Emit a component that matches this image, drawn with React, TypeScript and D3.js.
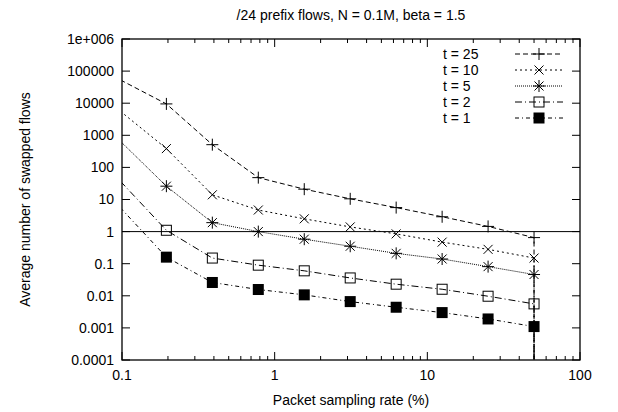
import React from "react";
import * as d3 from "d3";

const rates = [0.09765625, 0.1953125, 0.390625, 0.78125, 1.5625, 3.125, 6.25, 12.5, 25, 50, 50];
const t25 = [53000, 9500, 510, 48, 21, 10.5, 5.6, 2.9, 1.45, 0.65, 1e-9];
const t10 = [5600, 385, 14, 4.7, 2.5, 1.4, 0.85, 0.47, 0.28, 0.15, 1e-9];
const t5 = [650, 26, 1.9, 1.0, 0.58, 0.35, 0.21, 0.14, 0.081, 0.046, 1e-9];
const t2 = [37, 1.1, 0.15, 0.09, 0.06, 0.036, 0.023, 0.016, 0.0097, 0.0056, 1e-9];
const t1 = [5.5, 0.16, 0.026, 0.0157, 0.0107, 0.0066, 0.0044, 0.003, 0.0019, 0.0011, 1e-9];

const seriesNames = ["t = 25", "t = 10", "t = 5", "t = 2", "t = 1"];
const seriesValues = [t25, t10, t5, t2, t1];
const seriesDash = ["5,3", "2,3", "1,1", "7,3,1,3", "4,3,1,3"];
const seriesMarker = ["plus", "cross", "star", "box", "fbox"];

const yTicks = [1e6, 1e5, 1e4, 1e3, 100, 10, 1, 0.1, 0.01, 0.001, 0.0001];
const yTickLabels = ["1e+006", "100000", "10000", "1000", "100", "10", "1", "0.1", "0.01", "0.001", "0.0001"];
const xTicks = [0.1, 1, 10, 100];
const xTickLabels = ["0.1", "1", "10", "100"];

const W = 618, H = 412;
const L = 122, R = 580, T = 39, B = 360;
const FONT = "'Liberation Sans', Arial, Helvetica, sans-serif";

function Marker({ kind, x, y }: { kind: string; x: number; y: number }) {
  const s = 6;
  const c = 4.5;
  if (kind === "plus")
    return <path d={`M${x - s},${y}H${x + s}M${x},${y - s}V${y + s}`} stroke="#000" strokeWidth={1} fill="none" />;
  if (kind === "cross")
    return <path d={`M${x - c},${y - c}L${x + c},${y + c}M${x - c},${y + c}L${x + c},${y - c}`} stroke="#000" strokeWidth={1} fill="none" />;
  if (kind === "star")
    return (
      <path
        d={`M${x - s},${y}H${x + s}M${x},${y - s}V${y + s}M${x - c},${y - c}L${x + c},${y + c}M${x - c},${y + c}L${x + c},${y - c}`}
        stroke="#000" strokeWidth={1} fill="none" />
    );
  if (kind === "box")
    return <rect x={x - 5} y={y - 5} width={10} height={10} stroke="#000" strokeWidth={1} fill="none" />;
  return <rect x={x - 5.5} y={y - 5.5} width={11} height={11} fill="#000" />;
}

export default function App() {
  const x = d3.scaleLog().domain([0.1, 100]).range([L, R]);
  const y = d3.scaleLog().domain([1e-4, 1e6]).range([B, T]);

  const minorX: number[] = [];
  for (let e = -1; e < 2; e++) for (let m = 2; m <= 9; m++) minorX.push(m * Math.pow(10, e));

  const line = d3
    .line<[number, number]>()
    .x((d) => x(d[0]))
    .y((d) => y(d[1]));

  return (
    <svg width={W} height={H} style={{ display: "block", position: "absolute", left: 0, top: 0, background: "#fff" }}>
      <defs>
        <clipPath id="plotClip">
          <rect x={L} y={T} width={R - L} height={B - T} />
        </clipPath>
      </defs>
      <rect x={0} y={0} width={W} height={H} fill="#fff" />

      <text x={(L + R) / 2} y={20} textAnchor="middle" fontFamily={FONT} fontSize={14}>
        /24 prefix flows, N = 0.1M, beta = 1.5
      </text>

      {yTicks.map((v, i) => (
        <g key={"y" + i}>
          <line x1={L} x2={L + 8} y1={y(v)} y2={y(v)} stroke="#000" />
          <line x1={R} x2={R - 8} y1={y(v)} y2={y(v)} stroke="#000" />
          <text x={L - 8} y={y(v)} dy="0.35em" textAnchor="end" fontFamily={FONT} fontSize={14}>
            {yTickLabels[i]}
          </text>
        </g>
      ))}

      {xTicks.map((v, i) => (
        <g key={"x" + i}>
          <line x1={x(v)} x2={x(v)} y1={B} y2={B - 8} stroke="#000" />
          <line x1={x(v)} x2={x(v)} y1={T} y2={T + 8} stroke="#000" />
          <text x={x(v)} y={B + 20} textAnchor="middle" fontFamily={FONT} fontSize={14}>
            {xTickLabels[i]}
          </text>
        </g>
      ))}
      {minorX.map((v, i) => (
        <g key={"mx" + i}>
          <line x1={x(v)} x2={x(v)} y1={B} y2={B - 4} stroke="#000" />
          <line x1={x(v)} x2={x(v)} y1={T} y2={T + 4} stroke="#000" />
        </g>
      ))}

      <line x1={L} x2={R} y1={y(1)} y2={y(1)} stroke="#000" strokeWidth={1} />

      <g clipPath="url(#plotClip)">
        {seriesValues.map((vals, si) => {
          const pts = rates.map((r, i) => [r, vals[i]] as [number, number]);
          return (
            <path key={"s" + si} d={line(pts) || ""} fill="none" stroke="#000" strokeWidth={1} strokeDasharray={seriesDash[si]} />
          );
        })}
      </g>
      {seriesValues.map((vals, si) => (
        <g key={"m" + si}>
          {rates.map((r, i) =>
            r >= 0.1 && r <= 100 && vals[i] >= 1e-4 && vals[i] <= 1e6 ? (
              <Marker key={i} kind={seriesMarker[si]} x={x(r)} y={y(vals[i])} />
            ) : null
          )}
        </g>
      ))}

      {seriesNames.map((name, i) => {
        const ly = 54 + i * 16;
        return (
          <g key={"l" + i}>
            <text x={443} y={ly} dy="0.35em" fontFamily={FONT} fontSize={14}>
              {name}
            </text>
            <line x1={515} x2={563} y1={ly} y2={ly} stroke="#000" strokeDasharray={seriesDash[i]} />
            <Marker kind={seriesMarker[i]} x={539} y={ly} />
          </g>
        );
      })}

      <rect x={L} y={T} width={R - L} height={B - T} fill="none" stroke="#000" strokeWidth={1.3} />

      <text x={(L + R) / 2} y={405} textAnchor="middle" fontFamily={FONT} fontSize={14}>
        Packet sampling rate (%)
      </text>
      <text
        transform={`translate(${25},${(T + B) / 2}) rotate(-90)`}
        textAnchor="middle"
        dy="0.35em"
        fontFamily={FONT}
        fontSize={14}
      >
        Average number of swapped flows
      </text>
    </svg>
  );
}
